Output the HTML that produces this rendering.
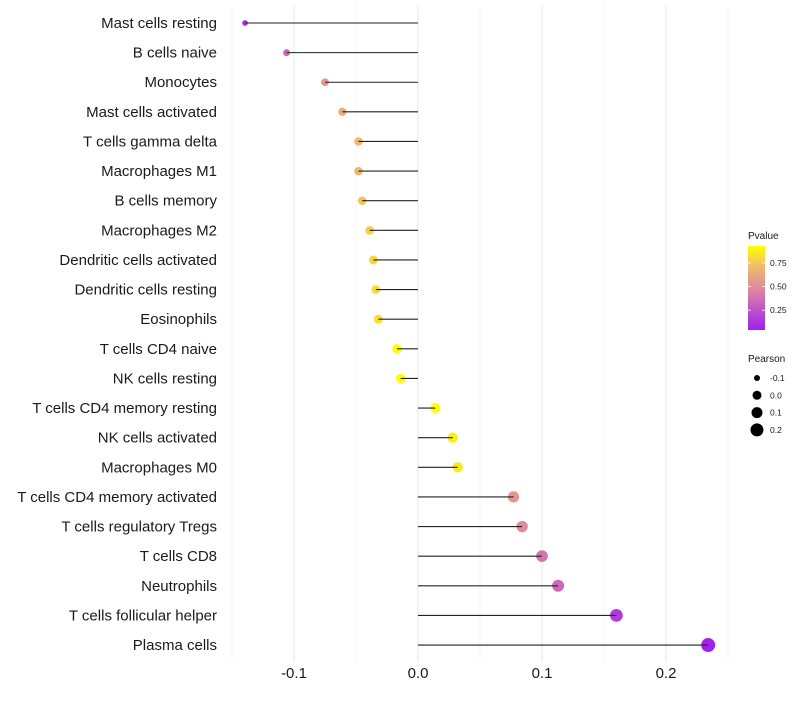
<!DOCTYPE html>
<html><head><meta charset="utf-8"><style>
body{margin:0;background:#fff;font-family:"Liberation Sans",sans-serif}
</style></head><body>
<svg id="c" width="800" height="700" xmlns="http://www.w3.org/2000/svg"></svg>
<script>
const categories=["Mast cells resting","B cells naive","Monocytes","Mast cells activated","T cells gamma delta","Macrophages M1","B cells memory","Macrophages M2","Dendritic cells activated","Dendritic cells resting","Eosinophils","T cells CD4 naive","NK cells resting","T cells CD4 memory resting","NK cells activated","Macrophages M0","T cells CD4 memory activated","T cells regulatory  Tregs ","T cells CD8","Neutrophils","T cells follicular helper","Plasma cells"];
const pearson=[-0.1395,-0.106,-0.075,-0.061,-0.048,-0.048,-0.045,-0.039,-0.036,-0.034,-0.032,-0.017,-0.014,0.014,0.028,0.032,0.077,0.084,0.100,0.113,0.160,0.234];
const pvalue=[0.10,0.35,0.55,0.65,0.70,0.70,0.75,0.78,0.80,0.82,0.83,0.95,0.97,0.97,0.88,0.86,0.55,0.50,0.40,0.35,0.15,0.05];
const xTicks=[-0.1,0.0,0.1,0.2];
const xTickLabels=["-0.1","0.0","0.1","0.2"];
const minorTicks=[-0.15,-0.05,0.05,0.15,0.25];
const pTicks=[0.25,0.50,0.75];
const sizeTicks=[-0.1,0.0,0.1,0.2];
const sizeTickLabels=["-0.1","0.0","0.1","0.2"];

const svg=document.getElementById('c');const NS="http://www.w3.org/2000/svg";
function mk(t,a,p){const e=document.createElementNS(NS,t);for(const k in a)e.setAttribute(k,a[k]);(p||svg).appendChild(e);return e;}
const X=v=>418+v*1240;
const Y=i=>23+i*29.62;
const pMin=0.04,pMax=0.93;
function lerp(a,b,t){return a+(b-a)*t}
const stops=[[0,[160,32,240]],[0.45,[218,128,165]],[0.75,[241,185,110]],[1,[255,255,0]]];
function col(p){let t=Math.max(0,Math.min(1,(p-pMin)/(pMax-pMin)));let i=0;while(i<stops.length-2&&t>stops[i+1][0])i++;let s0=stops[i],s1=stops[i+1];let u=(t-s0[0])/(s1[0]-s0[0]);const c=s0[1].map((v,k)=>Math.round(lerp(v,s1[1][k],u)));return `rgb(${c.join(',')})`;}
function R(v){return Math.sqrt(Math.max(2.5,23.5+109*v));}

const g=mk('g',{});
minorTicks.forEach(v=>{const l=mk('line',{x1:X(v),x2:X(v),y1:5,y2:662,stroke:'#f2f2f2','stroke-width':0.8},g);});
xTicks.forEach(v=>{const l=mk('line',{x1:X(v),x2:X(v),y1:5,y2:662,stroke:'#ebebeb','stroke-width':1.1},g);});
xTicks.forEach((v,i)=>{const t=mk('text',{x:X(v),y:678,'text-anchor':'middle','font-size':15,fill:'#1a1a1a'});t.textContent=xTickLabels[i];});

categories.forEach((c,i)=>{
 const y=Y(i);
 const t=mk('text',{x:217,y:y+5,'text-anchor':'end','font-size':15,fill:'#1a1a1a'});t.textContent=c;
 
 const d=mk('circle',{cx:X(pearson[i]),cy:y,r:R(pearson[i]),fill:col(pvalue[i])});
 
 const l=mk('line',{x1:X(0),x2:X(pearson[i]),y1:y,y2:y,stroke:'#222','stroke-width':1.1});
 
});

const lg=mk('g',{});
const lt=mk('text',{x:748,y:239,'font-size':10,fill:'#1a1a1a'},lg);lt.textContent='Pvalue';
const defs=mk('defs',{});const gr=mk('linearGradient',{id:'pg',x1:0,y1:1,x2:0,y2:0},defs);
for(let k=0;k<=20;k++){const p=pMin+(pMax-pMin)*k/20;mk('stop',{offset:k/20,'stop-color':col(p)},gr);}
const by0=246,by1=330,PY=p=>by1-(p-pMin)/(pMax-pMin)*(by1-by0);
const bar=mk('rect',{x:748,y:by0,width:17,height:by1-by0,fill:'url(#pg)'},lg);
pTicks.forEach(p=>{mk('line',{x1:748,x2:751,y1:PY(p),y2:PY(p),stroke:'#fff','stroke-width':0.8},lg);mk('line',{x1:762,x2:765,y1:PY(p),y2:PY(p),stroke:'#fff','stroke-width':0.8},lg);
 const t=mk('text',{x:770,y:PY(p)+3,'font-size':8.5,fill:'#1a1a1a'},lg);t.textContent=p.toFixed(2);});

const sg=mk('g',{});
const st=mk('text',{x:748,y:362,'font-size':10,fill:'#1a1a1a'},sg);st.textContent='Pearson';
sizeTicks.forEach((v,i)=>{const y=378+i*17.3;const c=mk('circle',{cx:757,cy:y,r:[3,4.5,5.5,6.5][i],fill:'#000'},sg);
 const t=mk('text',{x:770,y:y+3,'font-size':8.5,fill:'#1a1a1a'},sg);t.textContent=sizeTickLabels[i];});
</script>
</body></html>
